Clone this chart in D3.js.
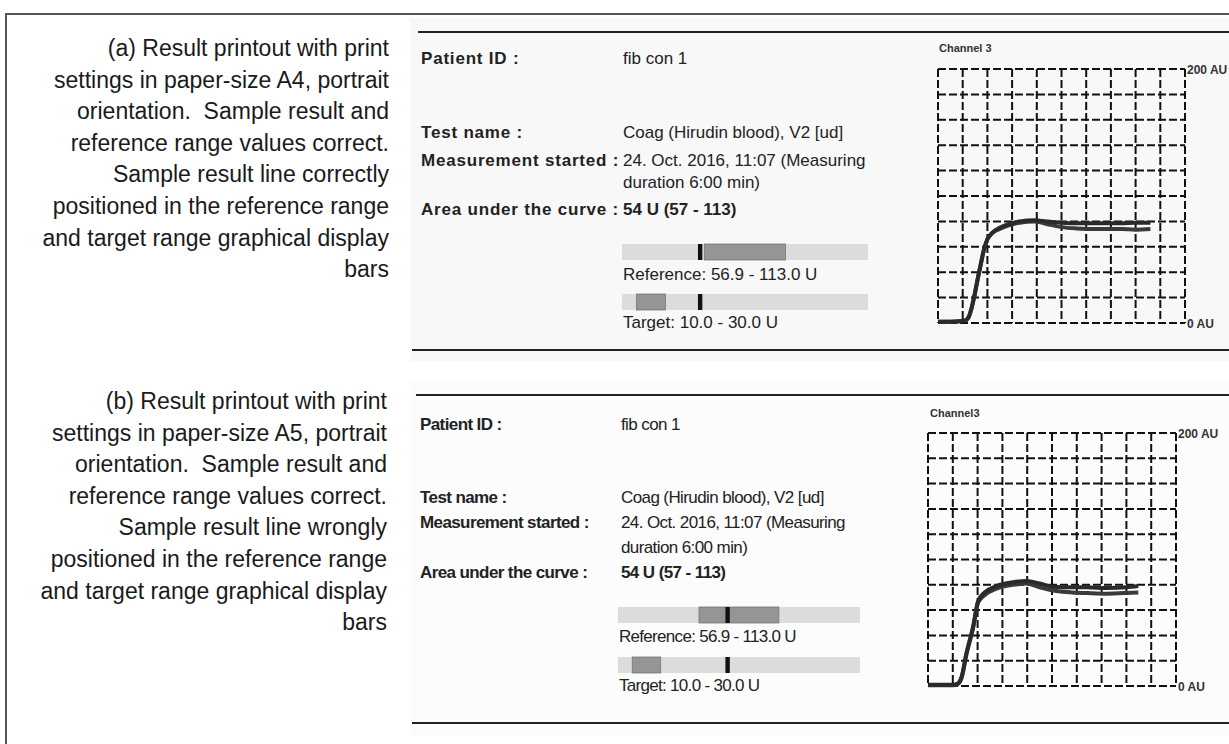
<!DOCTYPE html>
<meta charset="utf-8">
<style>
body {
  margin: 0;
  background: #fff;
}
.caption {
  font-family: "Liberation Sans", Arial, sans-serif;
  font-size: 23px;
  fill: #1a1a1a;
  white-space: pre;
}
.field, .value, .barlabel {
  font-family: "Liberation Sans", Arial, sans-serif;
  font-size: 17px;
  fill: #222;
}
.field {
  font-weight: bold;
}
.chart-label {
  font-family: "Liberation Sans", Arial, sans-serif;
  font-size: 12px;
  font-weight: bold;
  fill: #333;
}
</style>
<body>
<script src="https://cdn.jsdelivr.net/npm/d3@7"></script>
<script>

var width = 1229,
    height = 744;

// caption texts
var captionA = [
  "(a) Result printout with print",
  "settings in paper-size A4, portrait",
  "orientation.  Sample result and",
  "reference range values correct.",
  "Sample result line correctly",
  "positioned in the reference range",
  "and target range graphical display",
  "bars"
];
var captionB = [
  "(b) Result printout with print",
  "settings in paper-size A5, portrait",
  "orientation.  Sample result and",
  "reference range values correct.",
  "Sample result line wrongly",
  "positioned in the reference range",
  "and target range graphical display",
  "bars"
];

// printout fields
var fieldLabels = ["Patient ID :", "Test name :", "Measurement started :", "", "Area under the curve :"];
var fieldValues = ["fib con 1", "Coag (Hirudin blood), V2 [ud]", "24. Oct. 2016, 11:07 (Measuring", "duration 6:00 min)", "54 U (57 - 113)"];

// display bars (U)
var barDomain = [0, 170];
var referenceRange = [56.9, 113.0];
var targetRange = [10.0, 30.0];
var markerA = 54;   // correct position
var markerB = 77;   // wrongly placed line
var barLabels = ["Reference: 56.9 - 113.0 U", "Target: 10.0 - 30.0 U"];

// channel curves: x in grid divisions, y in AU
var channelLabels = ["Channel 3", "Channel3"];
var axisLabels = ["200 AU", "0 AU"];
var yDomain = [0, 200];
var xDomain = [0, 10];

var timeA  = [0, 0.5, 1.0, 1.15, 1.25, 1.35, 1.5, 1.62, 1.75, 1.85, 2.0, 2.2, 2.5, 2.8, 3.3, 3.9, 4.4, 5.0, 5.6, 6.5, 7.4, 8.0, 8.6];
var upperA = [1, 1, 1.5, 2.5, 5, 11, 24, 36, 48, 57, 66, 71, 75, 77.5, 80, 81, 80, 79, 78.5, 78.5, 78.5, 79, 79];
var lowerA = [1, 1, 1.5, 2.5, 5, 11, 24, 36, 48, 57, 66, 71, 74, 76.5, 79, 80, 78, 75.5, 74.5, 74, 74, 73.5, 74];

var timeB  = [0, 0.5, 1.0, 1.2, 1.35, 1.55, 1.82, 2.02, 2.29, 2.76, 3.43, 3.97, 4.5, 5.05, 5.8, 6.4, 7.2, 8.0, 8.48];
var upperB = [1, 1, 1, 2, 7, 26, 47, 67, 74, 79, 82, 83, 81, 78.5, 78, 78, 77.5, 78, 79];
var lowerB = [0.5, 0.5, 0.5, 1.5, 6, 25, 46, 66, 72, 77, 80, 81, 78, 75.5, 74, 73.5, 73, 73.5, 74];

var panels = [
  {
    caption: captionA, capX: 389, capY: 56, capStep: 31.6,
    top: 32, topX: 418, bottom: 350, bottomX: 412, bg: "#f8f8f8", bgY: 18, bgH: 344,
    labelX: 421, valueX: 623, rows: [64, 138, 166, 188, 215], spaced: true,
    bar: {x0: 622, x1: 868, refY: 244, tgtY: 294, h: 16}, refLabelY: 280, tgtLabelY: 328,
    marker: markerA,
    grid: {x0: 938, x1: 1185, y0: 69, y1: 323}, chX: 939, chY: 52,
    time: timeA, upper: upperA, lower: lowerA, channel: channelLabels[0]
  },
  {
    caption: captionB, capX: 387, capY: 409, capStep: 31.6,
    top: 395, topX: 416, bottom: 723, bottomX: 412, bg: "#fcfcfc", bgY: 380, bgH: 356,
    labelX: 420, valueX: 621, rows: [430, 503, 528, 553, 578], spaced: false,
    bar: {x0: 618, x1: 860, refY: 607, tgtY: 657, h: 16}, refLabelY: 642, tgtLabelY: 691,
    marker: markerB,
    grid: {x0: 928, x1: 1176, y0: 433, y1: 686}, chX: 930, chY: 417,
    time: timeB, upper: upperB, lower: lowerB, channel: channelLabels[1]
  }
];

var svg = d3.select("body").append("svg")
    .attr("width", width)
    .attr("height", height);

// outer frame (top and left edges)
svg.append("path")
    .attr("d", "M6," + height + "V14H" + width)
    .attr("fill", "none")
    .attr("stroke", "#555")
    .attr("stroke-width", 2);

panels.forEach(function(p) {

  var g = svg.append("g");

  // printout background
  g.append("rect")
      .attr("x", 410)
      .attr("y", p.bgY)
      .attr("width", width - 410)
      .attr("height", p.bgH)
      .attr("fill", p.bg);

  // caption
  g.selectAll(".caption")
    .data(p.caption)
    .enter().append("text")
      .attr("class", "caption")
      .attr("x", p.capX)
      .attr("y", function(d, i) { return p.capY + i * p.capStep; })
      .attr("text-anchor", "end")
      .text(function(d) { return d; });

  // separator lines
  [[p.top, p.topX], [p.bottom, p.bottomX]].forEach(function(l) {
    g.append("line")
        .attr("x1", l[1]).attr("x2", width)
        .attr("y1", l[0]).attr("y2", l[0])
        .attr("stroke", "#222")
        .attr("stroke-width", 2);
  });

  // fields
  g.selectAll(".field")
    .data(fieldLabels)
    .enter().append("text")
      .attr("class", "field")
      .attr("x", p.labelX)
      .attr("y", function(d, i) { return p.rows[i]; })
      .style("letter-spacing", p.spaced ? "0.8px" : "-0.6px")
      .text(function(d) { return d; });

  g.selectAll(".value")
    .data(fieldValues)
    .enter().append("text")
      .attr("class", "value")
      .attr("x", p.valueX)
      .attr("y", function(d, i) { return p.rows[i]; })
      .style("font-weight", function(d, i) { return i == 4 ? "bold" : "normal"; })
      .style("letter-spacing", p.spaced ? "0px" : "-0.6px")
      .text(function(d) { return d; });

  // display bars
  var bx = d3.scaleLinear()
      .domain(barDomain)
      .range([p.bar.x0, p.bar.x1]);

  [[p.bar.refY, referenceRange], [p.bar.tgtY, targetRange]].forEach(function(b) {
    g.append("rect")
        .attr("x", bx(barDomain[0]))
        .attr("y", b[0])
        .attr("width", bx(barDomain[1]) - bx(barDomain[0]))
        .attr("height", p.bar.h)
        .attr("fill", "#dcdcdc");
    g.append("rect")
        .attr("x", bx(b[1][0]))
        .attr("y", b[0])
        .attr("width", bx(b[1][1]) - bx(b[1][0]))
        .attr("height", p.bar.h)
        .attr("fill", "#959595")
        .attr("stroke", "#777")
        .attr("stroke-width", 0.8);
    g.append("rect")
        .attr("x", bx(p.marker) - 2.2)
        .attr("y", b[0])
        .attr("width", 4.4)
        .attr("height", p.bar.h)
        .attr("fill", "#111");
  });

  g.selectAll(".barlabel")
    .data(barLabels)
    .enter().append("text")
      .attr("class", "barlabel")
      .attr("x", p.bar.x0 + 1)
      .attr("y", function(d, i) { return i == 0 ? p.refLabelY : p.tgtLabelY; })
      .style("letter-spacing", p.spaced ? "0px" : "-0.7px")
      .text(function(d) { return d; });

  // channel chart
  var x = d3.scaleLinear().domain(xDomain).range([p.grid.x0, p.grid.x1]);
  var y = d3.scaleLinear().domain(yDomain).range([p.grid.y1, p.grid.y0]);

  g.append("g")
    .selectAll("line")
    .data(x.ticks(10))
    .enter().append("line")
      .attr("x1", x).attr("x2", x)
      .attr("y1", p.grid.y0).attr("y2", p.grid.y1)
      .attr("stroke", "#111")
      .attr("stroke-width", 2)
      .attr("stroke-dasharray", "8,3");

  g.append("g")
    .selectAll("line")
    .data(y.ticks(10))
    .enter().append("line")
      .attr("x1", p.grid.x0).attr("x2", p.grid.x1)
      .attr("y1", y).attr("y2", y)
      .attr("stroke", "#111")
      .attr("stroke-width", 2)
      .attr("stroke-dasharray", "8,3");

  var line = d3.line()
      .x(function(d) { return x(d[0]); })
      .y(function(d) { return y(d[1]); })
      .curve(d3.curveMonotoneX);

  [p.lower, p.upper].forEach(function(series, k) {
    g.append("path")
        .datum(d3.zip(p.time, series))
        .attr("d", line)
        .attr("fill", "none")
        .attr("stroke", k == 0 ? "#3a3a3a" : "#2a2a2a")
        .attr("stroke-width", 4)
        .attr("stroke-linejoin", "round");
  });

  g.append("text")
      .attr("class", "chart-label")
      .attr("x", p.chX)
      .attr("y", p.chY)
      .style("font-size", "11px")
      .text(p.channel);

  g.selectAll(".axis-label")
    .data(axisLabels)
    .enter().append("text")
      .attr("class", "chart-label axis-label")
      .attr("x", p.grid.x1 + 2)
      .attr("y", function(d, i) { return (i == 0 ? y(yDomain[1]) : y(yDomain[0])) + 5; })
      .text(function(d) { return d; });

});

</script>
